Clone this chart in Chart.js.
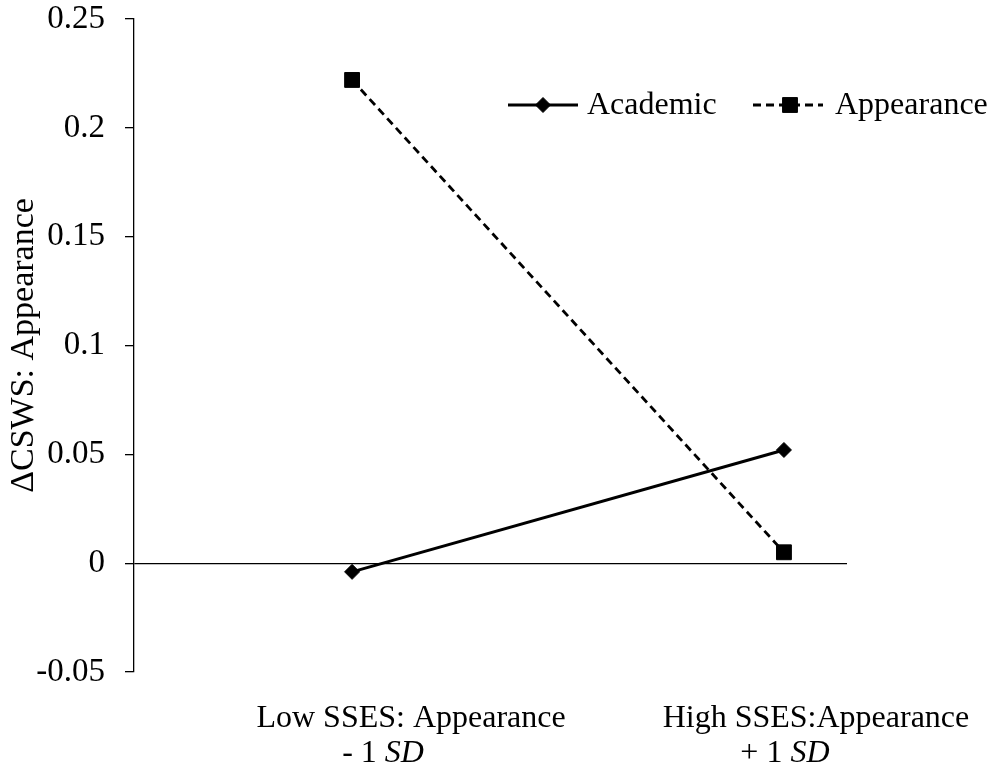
<!DOCTYPE html>
<html>
<head>
<meta charset="utf-8">
<script src="https://cdn.jsdelivr.net/npm/chart.js@4.4.0/dist/chart.umd.min.js"></script>
<style>
  html, body { margin: 0; padding: 0; background: #fff; }
  #wrap { width: 990px; height: 769px; }
</style>
</head>
<body>
<div id="wrap"><canvas id="slopeChart"></canvas></div>
<script>
// chart values
const xValues = [0, 1];
const categoryLines = [
  ["Low SSES: Appearance", "- 1 "],
  ["High SSES:Appearance", "+ 1 "]
];
const italicSuffix = "SD";
const seriesNames = ["Academic", "Appearance"];
const academic = [-0.004, 0.052];
const appearance = [0.222, 0.005];
const yTickLabels = ["-0.05", "0", "0.05", "0.1", "0.15", "0.2", "0.25"];

const serif = "'Liberation Serif', 'Times New Roman', serif";

const toPoints = (vals) => vals.map((v, i) => ({ x: xValues[i], y: v }));

// category labels under the plot, with SD in italics
const xLabelPlugin = {
  id: "xLabels",
  afterDraw(chart) {
    const ctx = chart.ctx;
    const xs = chart.scales.x;
    const off1 = [59, 32];
    const off2 = [31, 1];
    ctx.save();
    ctx.fillStyle = "#000";
    ctx.textBaseline = "alphabetic";
    categoryLines.forEach((lines, i) => {
      const px = xs.getPixelForValue(xValues[i]);
      ctx.font = "32px " + serif;
      ctx.textAlign = "center";
      ctx.fillText(lines[0], px + off1[i], 727);
      // second line: plain part + italic part
      const plainW = ctx.measureText(lines[1]).width;
      ctx.font = "italic 32px " + serif;
      const italW = ctx.measureText(italicSuffix).width;
      const start = px + off2[i] - (plainW + italW) / 2;
      ctx.textAlign = "left";
      ctx.font = "32px " + serif;
      ctx.fillText(lines[1], start, 762);
      ctx.font = "italic 32px " + serif;
      ctx.fillText(italicSuffix, start + plainW, 762);
    });
    ctx.restore();
  }
};

// legend drawn as line + marker + name, like the original
const lineLegendPlugin = {
  id: "lineLegend",
  afterDraw(chart) {
    const ctx = chart.ctx;
    const items = [
      { x0: 508, x1: 578, mx: 543, tx: 587 },
      { x0: 753, x1: 823, mx: 790, tx: 835 }
    ];
    const y = 105;
    ctx.save();
    chart.data.datasets.forEach((ds, i) => {
      const it = items[i];
      ctx.strokeStyle = ds.borderColor;
      ctx.lineWidth = ds.borderWidth;
      ctx.setLineDash(ds.borderDash || []);
      ctx.beginPath();
      ctx.moveTo(it.x0, y);
      ctx.lineTo(it.x1, y);
      ctx.stroke();
      ctx.setLineDash([]);
      ctx.fillStyle = ds.pointBackgroundColor;
      ctx.strokeStyle = ds.pointBorderColor;
      ctx.lineWidth = 1;
      Chart.helpers.drawPoint(ctx, {
        pointStyle: ds.pointStyle,
        radius: ds.pointRadius,
        rotation: 0,
        borderWidth: 1
      }, it.mx, y);
      ctx.fillStyle = "#000";
      ctx.font = "32px " + serif;
      ctx.textAlign = "left";
      ctx.textBaseline = "middle";
      ctx.fillText(ds.label, it.tx, y + 1);
    });
    ctx.restore();
  }
};

document.addEventListener("DOMContentLoaded", function () {
  const ctx = document.getElementById("slopeChart").getContext("2d");
  new Chart(ctx, {
    type: "line",
    data: {
      datasets: [
        {
          label: seriesNames[0],
          data: toPoints(academic),
          borderColor: "#000",
          borderWidth: 3,
          pointStyle: "rectRot",
          pointRadius: 7.5,
          pointBackgroundColor: "#000",
          pointBorderColor: "#000",
          pointBorderWidth: 1
        },
        {
          label: seriesNames[1],
          data: toPoints(appearance),
          borderColor: "#000",
          borderWidth: 2.8,
          borderDash: [8, 5],
          pointStyle: "rect",
          pointRadius: 10.5,
          pointBackgroundColor: "#000",
          pointBorderColor: "#000",
          pointBorderWidth: 1
        }
      ]
    },
    options: {
      responsive: true,
      maintainAspectRatio: false,
      animation: false,
      layout: {
        padding: { top: 19, right: 143, bottom: 97, left: 0 }
      },
      plugins: {
        legend: { display: false },
        tooltip: { enabled: false }
      },
      scales: {
        x: {
          type: "linear",
          display: false,
          min: -0.505,
          max: 1.146
        },
        y: {
          min: -0.05,
          max: 0.25,
          afterFit: (scale) => {
            scale.width = 134;
            scale.paddingTop = 0;
            scale.paddingBottom = 0;
          },
          ticks: {
            stepSize: 0.05,
            color: "#000",
            padding: 20,
            font: { family: serif, size: 33 },
            callback: (v, i) => yTickLabels[i]
          },
          grid: {
            color: (c) => (c.tick && Math.abs(c.tick.value) < 1e-9 ? "#000" : "rgba(0,0,0,0)"),
            lineWidth: 1.3,
            tickColor: "#000",
            tickLength: 9,
            tickWidth: 1.3
          },
          border: { display: true, color: "#000", width: 1.3 },
          title: {
            display: true,
            text: "ΔCSWS: Appearance",
            color: "#000",
            font: { family: serif, size: 34 }
          }
        }
      }
    },
    plugins: [xLabelPlugin, lineLegendPlugin]
  });
});
</script>
</body>
</html>
